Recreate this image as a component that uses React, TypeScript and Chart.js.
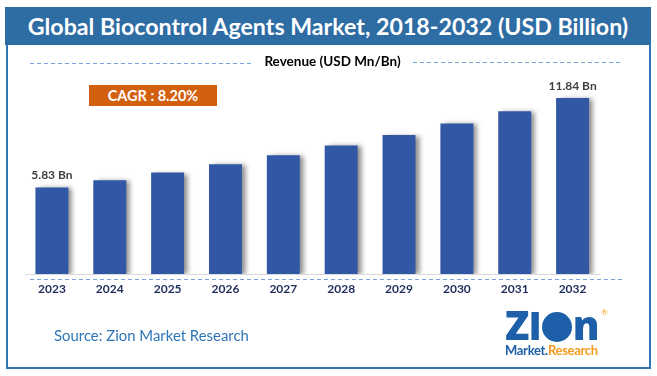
import React, { useEffect, useRef } from "react";
import { Chart, registerables } from "chart.js";

Chart.register(...registerables);

const years: string[] = ["2023", "2024", "2025", "2026", "2027", "2028", "2029", "2030", "2031", "2032"];
const revenue: number[] = [5.83, 6.31, 6.83, 7.39, 8.0, 8.65, 9.36, 10.13, 10.96, 11.84];
const barLabels: string[] = ["5.83 Bn", "", "", "", "", "", "", "", "", "11.84 Bn"];
const titleText = "Global Biocontrol Agents Market, 2018-2032 (USD Billion)";
const legendText = "Revenue (USD Mn/Bn)";
const cagrText = "CAGR : 8.20%";
const sourceText = "Source: Zion Market Research";

const FONT = "Lato, 'Open Sans', sans-serif";

const decoPlugin = {
  id: "deco",
  beforeDatasetsDraw(chart: any) {
    const { ctx, chartArea } = chart;
    ctx.save();
    ctx.strokeStyle = "#d9d9d9";
    ctx.lineWidth = 1;
    ctx.beginPath();
    ctx.moveTo(chartArea.left + 2, chartArea.bottom + 0.5);
    ctx.lineTo(chartArea.right - 1, chartArea.bottom + 0.5);
    ctx.stroke();
    ctx.strokeStyle = "#7aa3dd";
    ctx.setLineDash([4, 3]);
    ctx.beginPath();
    ctx.moveTo(chartArea.left + 7, chartArea.bottom + 5.5);
    ctx.lineTo(chartArea.right + 21, chartArea.bottom + 5.5);
    ctx.stroke();
    ctx.restore();
  },
  beforeDatasetDraw(chart: any) {
    const ctx = chart.ctx;
    ctx.save();
    ctx.shadowColor = "rgba(0,0,0,0.45)";
    ctx.shadowBlur = 5;
    ctx.shadowOffsetX = 4;
    ctx.shadowOffsetY = 1;
  },
  afterDatasetDraw(chart: any) {
    chart.ctx.restore();
  },
  afterDatasetsDraw(chart: any) {
    const { ctx } = chart;
    const meta = chart.getDatasetMeta(0);
    ctx.save();
    ctx.font = `bold 12px ${FONT}`;
    ctx.fillStyle = "#404040";
    ctx.textAlign = "center";
    ctx.textBaseline = "middle";
    meta.data.forEach((bar: any, i: number) => {
      if (barLabels[i]) ctx.fillText(barLabels[i], bar.x, bar.y - 12);
    });
    ctx.restore();
  },
};

function ChartCanvas() {
  const ref = useRef<HTMLCanvasElement | null>(null);
  useEffect(() => {
    if (!ref.current) return;
    const chart = new Chart(ref.current, {
      type: "bar",
      data: {
        labels: years,
        datasets: [
          {
            data: revenue,
            backgroundColor: "#3157a5",
            barPercentage: 0.57,
            categoryPercentage: 1,
          },
        ],
      },
      options: {
        animation: false,
        responsive: false,
        devicePixelRatio: 1,
        layout: { padding: { left: 23, right: 55.5, top: 66, bottom: 71.6 } },
        plugins: { legend: { display: false }, tooltip: { enabled: false } },
        scales: {
          x: {
            grid: { display: false, drawTicks: false },
            border: { display: false },
            ticks: {
              color: "#1f2d5c",
              font: { family: FONT, size: 12, weight: "bold" },
              padding: 8,
            },
          },
          y: { display: false, min: 0, max: 14 },
        },
      },
      plugins: [decoPlugin],
    });
    return () => chart.destroy();
  }, []);
  return <canvas ref={ref} width={657} height={376} style={{ position: "absolute", left: 0, top: 0 }} />;
}

export default function App() {
  const dash = {
    position: "absolute" as const,
    height: 1,
    backgroundImage: "linear-gradient(to right, #7aa3dd 0 4px, transparent 4px 7px)",
    backgroundSize: "7px 1px",
  };
  return (
    <div style={{ position: "fixed", left: 0, top: 0, width: 657, height: 376, background: "#fff", fontFamily: FONT, overflow: "hidden" }}>
      <div style={{ position: "absolute", left: 6, top: 8, width: 641, height: 357, border: "2px solid #2e75b6" }} />
      <ChartCanvas />
      <div style={{ position: "absolute", left: 5, top: 7, width: 646, height: 38, background: "#2e6ca4", color: "#fff", fontWeight: 700, fontSize: 23.2, lineHeight: "38px", textAlign: "center", whiteSpace: "nowrap" }}>
        {titleText}
      </div>
      <div style={{ ...dash, left: 30, top: 63, width: 222 }} />
      <div style={{ ...dash, left: 413, top: 62, width: 209 }} />
      <div style={{ position: "absolute", left: 252, width: 161, top: 53, fontSize: 13.5, fontWeight: 700, color: "#000", textAlign: "center", lineHeight: "16px", whiteSpace: "nowrap" }}>
        {legendText}
      </div>
      <div style={{ position: "absolute", left: 89, top: 85, width: 128, height: 21, background: "#d2600f", color: "#fff", fontWeight: 700, fontSize: 14.5, lineHeight: "21px", textAlign: "center" }}>
        {cagrText}
      </div>
      <div style={{ position: "absolute", left: 54, top: 325, fontSize: 14.9, color: "#2e75b6", lineHeight: "20px", whiteSpace: "nowrap" }}>
        {sourceText}
      </div>
      <div style={{ position: "absolute", left: 503, top: 303, width: 105, height: 58 }}>
        <div style={{ position: "absolute", left: 2, top: 0, fontSize: 40, fontWeight: 900, color: "#1d5fa8", lineHeight: "44px", letterSpacing: -1, fontFamily: "'Open Sans', Lato, sans-serif" }}>
          Z<span style={{ fontSize: 38 }}>I</span><span style={{ display: "inline-block", width: 30, height: 30, borderRadius: 15, background: "#1d5fa8", verticalAlign: "-2px", margin: "0 1px" }} />n
        </div>
        <div style={{ position: "absolute", right: 0, top: 4, fontSize: 8, color: "#f39a1f" }}>®</div>
        <div style={{ position: "absolute", left: 2, top: 40, fontSize: 13, fontWeight: 700, lineHeight: "15px", whiteSpace: "nowrap", letterSpacing: -0.3 }}>
          <span style={{ color: "#1d5fa8" }}>Market.</span>
          <span style={{ color: "#f39a1f" }}>Research</span>
        </div>
      </div>
    </div>
  );
}
